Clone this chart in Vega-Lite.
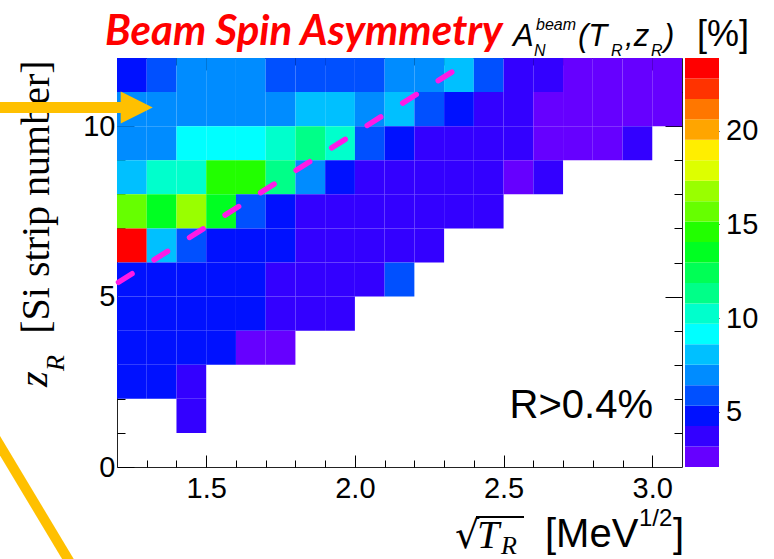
{
  "$schema": "https://vega.github.io/schema/vega-lite/v6.json",
  "width": 565,
  "height": 409,
  "autosize": {"type": "none"},
  "padding": {"left": 117, "top": 58, "right": 92, "bottom": 92},
  "background": "white",
  "config": {
    "view": {"stroke": "#222222", "strokeWidth": 1},
    "axis": {"domain": false, "grid": false, "tickColor": "#000000", "tickWidth": 1, "labelColor": "#000000", "labelFont": "Liberation Sans"}
  },
  "resolve": {"scale": {"x": "independent", "y": "independent"}, "axis": {"x": "independent", "y": "independent"}},
  "layer": [
    {
      "data": {"values": [
        {"t0":1.2,"t1":1.3,"z0":11,"z1":12,"a":4.9},{"t0":1.3,"t1":1.4,"z0":11,"z1":12,"a":5.8},{"t0":1.4,"t1":1.5,"z0":11,"z1":12,"a":7.0},{"t0":1.5,"t1":1.6,"z0":11,"z1":12,"a":7.1},{"t0":1.6,"t1":1.7,"z0":11,"z1":12,"a":6.9},{"t0":1.7,"t1":1.8,"z0":11,"z1":12,"a":5.9},{"t0":1.8,"t1":1.9,"z0":11,"z1":12,"a":5.8},{"t0":1.9,"t1":2.0,"z0":11,"z1":12,"a":6.0},{"t0":2.0,"t1":2.1,"z0":11,"z1":12,"a":5.9},{"t0":2.1,"t1":2.2,"z0":11,"z1":12,"a":7.0},{"t0":2.2,"t1":2.3,"z0":11,"z1":12,"a":6.9},{"t0":2.3,"t1":2.4,"z0":11,"z1":12,"a":8.1},{"t0":2.4,"t1":2.5,"z0":11,"z1":12,"a":5.8},{"t0":2.5,"t1":2.6,"z0":11,"z1":12,"a":3.8},{"t0":2.6,"t1":2.7,"z0":11,"z1":12,"a":3.7},{"t0":2.7,"t1":2.8,"z0":11,"z1":12,"a":2.6},{"t0":2.8,"t1":2.9,"z0":11,"z1":12,"a":2.7},{"t0":2.9,"t1":3.0,"z0":11,"z1":12,"a":2.6},{"t0":3.0,"t1":3.1,"z0":11,"z1":12,"a":2.5},
        {"t0":1.2,"t1":1.3,"z0":10,"z1":11,"a":7.0},{"t0":1.3,"t1":1.4,"z0":10,"z1":11,"a":6.9},{"t0":1.4,"t1":1.5,"z0":10,"z1":11,"a":7.1},{"t0":1.5,"t1":1.6,"z0":10,"z1":11,"a":7.0},{"t0":1.6,"t1":1.7,"z0":10,"z1":11,"a":6.9},{"t0":1.7,"t1":1.8,"z0":10,"z1":11,"a":7.0},{"t0":1.8,"t1":1.9,"z0":10,"z1":11,"a":8.1},{"t0":1.9,"t1":2.0,"z0":10,"z1":11,"a":8.0},{"t0":2.0,"t1":2.1,"z0":10,"z1":11,"a":7.1},{"t0":2.1,"t1":2.2,"z0":10,"z1":11,"a":8.2},{"t0":2.2,"t1":2.3,"z0":10,"z1":11,"a":5.9},{"t0":2.3,"t1":2.4,"z0":10,"z1":11,"a":4.8},{"t0":2.4,"t1":2.5,"z0":10,"z1":11,"a":3.7},{"t0":2.5,"t1":2.6,"z0":10,"z1":11,"a":3.6},{"t0":2.6,"t1":2.7,"z0":10,"z1":11,"a":2.7},{"t0":2.7,"t1":2.8,"z0":10,"z1":11,"a":2.6},{"t0":2.8,"t1":2.9,"z0":10,"z1":11,"a":2.5},{"t0":2.9,"t1":3.0,"z0":10,"z1":11,"a":2.7},{"t0":3.0,"t1":3.1,"z0":10,"z1":11,"a":2.6},
        {"t0":1.2,"t1":1.3,"z0":9,"z1":10,"a":7.0},{"t0":1.3,"t1":1.4,"z0":9,"z1":10,"a":6.9},{"t0":1.4,"t1":1.5,"z0":9,"z1":10,"a":9.2},{"t0":1.5,"t1":1.6,"z0":9,"z1":10,"a":9.1},{"t0":1.6,"t1":1.7,"z0":9,"z1":10,"a":9.2},{"t0":1.7,"t1":1.8,"z0":9,"z1":10,"a":10.3},{"t0":1.8,"t1":1.9,"z0":9,"z1":10,"a":11.3},{"t0":1.9,"t1":2.0,"z0":9,"z1":10,"a":10.2},{"t0":2.0,"t1":2.1,"z0":9,"z1":10,"a":5.9},{"t0":2.1,"t1":2.2,"z0":9,"z1":10,"a":4.8},{"t0":2.2,"t1":2.3,"z0":9,"z1":10,"a":3.7},{"t0":2.3,"t1":2.4,"z0":9,"z1":10,"a":3.8},{"t0":2.4,"t1":2.5,"z0":9,"z1":10,"a":3.6},{"t0":2.5,"t1":2.6,"z0":9,"z1":10,"a":3.7},{"t0":2.6,"t1":2.7,"z0":9,"z1":10,"a":2.6},{"t0":2.7,"t1":2.8,"z0":9,"z1":10,"a":2.7},{"t0":2.8,"t1":2.9,"z0":9,"z1":10,"a":2.6},{"t0":2.9,"t1":3.0,"z0":9,"z1":10,"a":3.6},
        {"t0":1.2,"t1":1.3,"z0":8,"z1":9,"a":8.0},{"t0":1.3,"t1":1.4,"z0":8,"z1":9,"a":10.2},{"t0":1.4,"t1":1.5,"z0":8,"z1":9,"a":10.3},{"t0":1.5,"t1":1.6,"z0":8,"z1":9,"a":14.6},{"t0":1.6,"t1":1.7,"z0":8,"z1":9,"a":14.5},{"t0":1.7,"t1":1.8,"z0":8,"z1":9,"a":11.4},{"t0":1.8,"t1":1.9,"z0":8,"z1":9,"a":7.0},{"t0":1.9,"t1":2.0,"z0":8,"z1":9,"a":4.7},{"t0":2.0,"t1":2.1,"z0":8,"z1":9,"a":3.7},{"t0":2.1,"t1":2.2,"z0":8,"z1":9,"a":3.8},{"t0":2.2,"t1":2.3,"z0":8,"z1":9,"a":3.6},{"t0":2.3,"t1":2.4,"z0":8,"z1":9,"a":3.7},{"t0":2.4,"t1":2.5,"z0":8,"z1":9,"a":3.8},{"t0":2.5,"t1":2.6,"z0":8,"z1":9,"a":2.6},{"t0":2.6,"t1":2.7,"z0":8,"z1":9,"a":3.6},
        {"t0":1.2,"t1":1.3,"z0":7,"z1":8,"a":15.7},{"t0":1.3,"t1":1.4,"z0":7,"z1":8,"a":13.5},{"t0":1.4,"t1":1.5,"z0":7,"z1":8,"a":16.8},{"t0":1.5,"t1":1.6,"z0":7,"z1":8,"a":13.6},{"t0":1.6,"t1":1.7,"z0":7,"z1":8,"a":5.9},{"t0":1.7,"t1":1.8,"z0":7,"z1":8,"a":4.8},{"t0":1.8,"t1":1.9,"z0":7,"z1":8,"a":3.7},{"t0":1.9,"t1":2.0,"z0":7,"z1":8,"a":3.8},{"t0":2.0,"t1":2.1,"z0":7,"z1":8,"a":3.6},{"t0":2.1,"t1":2.2,"z0":7,"z1":8,"a":3.7},{"t0":2.2,"t1":2.3,"z0":7,"z1":8,"a":3.8},{"t0":2.3,"t1":2.4,"z0":7,"z1":8,"a":3.7},{"t0":2.4,"t1":2.5,"z0":7,"z1":8,"a":3.6},
        {"t0":1.2,"t1":1.3,"z0":6,"z1":7,"a":23.4},{"t0":1.3,"t1":1.4,"z0":6,"z1":7,"a":8.0},{"t0":1.4,"t1":1.5,"z0":6,"z1":7,"a":5.9},{"t0":1.5,"t1":1.6,"z0":6,"z1":7,"a":4.8},{"t0":1.6,"t1":1.7,"z0":6,"z1":7,"a":4.7},{"t0":1.7,"t1":1.8,"z0":6,"z1":7,"a":4.9},{"t0":1.8,"t1":1.9,"z0":6,"z1":7,"a":3.7},{"t0":1.9,"t1":2.0,"z0":6,"z1":7,"a":3.8},{"t0":2.0,"t1":2.1,"z0":6,"z1":7,"a":3.6},{"t0":2.1,"t1":2.2,"z0":6,"z1":7,"a":3.7},{"t0":2.2,"t1":2.3,"z0":6,"z1":7,"a":3.8},
        {"t0":1.2,"t1":1.3,"z0":5,"z1":6,"a":4.8},{"t0":1.3,"t1":1.4,"z0":5,"z1":6,"a":4.7},{"t0":1.4,"t1":1.5,"z0":5,"z1":6,"a":4.9},{"t0":1.5,"t1":1.6,"z0":5,"z1":6,"a":4.8},{"t0":1.6,"t1":1.7,"z0":5,"z1":6,"a":4.6},{"t0":1.7,"t1":1.8,"z0":5,"z1":6,"a":3.7},{"t0":1.8,"t1":1.9,"z0":5,"z1":6,"a":3.8},{"t0":1.9,"t1":2.0,"z0":5,"z1":6,"a":3.6},{"t0":2.0,"t1":2.1,"z0":5,"z1":6,"a":3.7},{"t0":2.1,"t1":2.2,"z0":5,"z1":6,"a":5.9},
        {"t0":1.2,"t1":1.3,"z0":4,"z1":5,"a":4.8},{"t0":1.3,"t1":1.4,"z0":4,"z1":5,"a":4.9},{"t0":1.4,"t1":1.5,"z0":4,"z1":5,"a":4.7},{"t0":1.5,"t1":1.6,"z0":4,"z1":5,"a":4.8},{"t0":1.6,"t1":1.7,"z0":4,"z1":5,"a":4.6},{"t0":1.7,"t1":1.8,"z0":4,"z1":5,"a":3.7},{"t0":1.8,"t1":1.9,"z0":4,"z1":5,"a":3.6},{"t0":1.9,"t1":2.0,"z0":4,"z1":5,"a":3.8},
        {"t0":1.2,"t1":1.3,"z0":3,"z1":4,"a":4.8},{"t0":1.3,"t1":1.4,"z0":3,"z1":4,"a":4.7},{"t0":1.4,"t1":1.5,"z0":3,"z1":4,"a":4.9},{"t0":1.5,"t1":1.6,"z0":3,"z1":4,"a":4.8},{"t0":1.6,"t1":1.7,"z0":3,"z1":4,"a":2.7},{"t0":1.7,"t1":1.8,"z0":3,"z1":4,"a":2.6},
        {"t0":1.2,"t1":1.3,"z0":2,"z1":3,"a":4.8},{"t0":1.3,"t1":1.4,"z0":2,"z1":3,"a":4.9},{"t0":1.4,"t1":1.5,"z0":2,"z1":3,"a":3.7},
        {"t0":1.4,"t1":1.5,"z0":1,"z1":2,"a":3.8}
      ]},
      "mark": {"type": "rect"},
      "encoding": {
        "x": {"field": "t0", "type": "quantitative",
              "scale": {"domain": [1.2, 3.1], "nice": false, "zero": false},
              "axis": {"title": null, "orient": "bottom",
                       "values": [1.3,1.4,1.5,1.6,1.7,1.8,1.9,2.0,2.1,2.2,2.3,2.4,2.5,2.6,2.7,2.8,2.9,3.0],
                       "labelExpr": "abs(datum.value*2 - round(datum.value*2)) < 0.001 ? format(datum.value, '.1f') : ''",
                       "tickSize": {"condition": {"test": "abs(datum.value*2 - round(datum.value*2)) < 0.001", "value": -12}, "value": -7},
                       "labelPadding": 42, "labelBaseline": "alphabetic", "labelFontSize": 29, "labelOverlap": false, "labelFlush": false}},
        "x2": {"field": "t1"},
        "y": {"field": "z0", "type": "quantitative",
              "scale": {"domain": [0, 12], "nice": false, "zero": false},
              "axis": {"title": null, "orient": "left",
                       "values": [0,1,2,3,4,5,6,7,8,9,10,11],
                       "labelExpr": "datum.value % 5 === 0 ? datum.label : ''",
                       "tickSize": {"condition": {"test": "datum.value % 5 === 0", "value": -17}, "value": -8},
                       "labelPadding": 19, "labelBaseline": "middle", "labelFontSize": 29, "labelOverlap": false, "labelFlush": false}},
        "y2": {"field": "z1"},
        "color": {"field": "a", "type": "quantitative",
                  "scale": {"type": "quantize", "domain": [2.06, 23.87], "nice": false, "zero": false,
                            "range": ["#6600FF","#3300FF","#0011FF","#0050FF","#008CFF","#00C0FF","#00FFFF","#00FFCC","#00FF88","#00FF55","#00FF22","#22FF00","#66FF00","#99FF00","#DDFF00","#FFEE00","#FFA500","#FF7700","#FF3300","#FF0000"]},
                  "legend": null}
      }
    },
    {
      "data": {"values": [{"t": 1.205, "z": 5.42}, {"t": 2.343, "z": 11.68}]},
      "mark": {"type": "line", "color": "#FF1AE6", "strokeWidth": 5.5, "strokeCap": "round", "strokeDash": [16, 26]},
      "encoding": {
        "x": {"field": "t", "type": "quantitative", "scale": {"domain": [1.2, 3.1], "nice": false, "zero": false},
              "axis": {"title": null, "orient": "top", "labels": false,
                       "values": [1.3,1.4,1.5,1.6,1.7,1.8,1.9,2.0,2.1,2.2,2.3,2.4,2.5,2.6,2.7,2.8,2.9,3.0],
                       "tickSize": {"condition": {"test": "abs(datum.value*2 - round(datum.value*2)) < 0.001", "value": -12}, "value": -7}}},
        "y": {"field": "z", "type": "quantitative", "scale": {"domain": [0, 12], "nice": false, "zero": false},
              "axis": {"title": null, "orient": "right", "labels": false,
                       "values": [1,2,3,4,5,6,7,8,9,10,11],
                       "tickSize": {"condition": {"test": "datum.value % 5 === 0", "value": -17}, "value": -8}}}
      }
    },
    {
      "layer": [
        {
          "data": {"values": [{"t": 3.0025, "z": 1.43, "s": "R>0.4%"}]},
          "mark": {"type": "text", "font": "Liberation Sans", "fontSize": 40, "align": "right", "baseline": "alphabetic", "color": "#000000"},
          "encoding": {
            "x": {"field": "t", "type": "quantitative", "scale": {"domain": [1.2, 3.1], "nice": false, "zero": false}, "axis": null},
            "y": {"field": "z", "type": "quantitative", "scale": {"domain": [0, 12], "nice": false, "zero": false}, "axis": null},
            "text": {"field": "s"}
          }
        },
        {
          "data": {"values": [{"t": 1.16, "z": 12.38, "s": "Beam Spin Asymmetry"}]},
          "mark": {"type": "text", "font": "Lato", "fontSize": 42, "fontWeight": "bold", "fontStyle": "italic", "align": "left", "baseline": "alphabetic", "color": "#FF0000"},
          "encoding": {
            "x": {"field": "t", "type": "quantitative", "axis": null},
            "y": {"field": "z", "type": "quantitative", "axis": null},
            "text": {"field": "s"}
          }
        },
        {
          "data": {"values": [{"t": 2.5317, "z": 12.35, "s": "A"}, {"t": 2.7503, "z": 12.35, "s": "(T"}, {"t": 2.9084, "z": 12.35, "s": ",z"}, {"t": 3.0395, "z": 12.35, "s": ")"}]},
          "mark": {"type": "text", "font": "Liberation Sans", "fontSize": 31, "fontStyle": "italic", "align": "left", "baseline": "alphabetic", "color": "#000000"},
          "encoding": {
            "x": {"field": "t", "type": "quantitative", "axis": null},
            "y": {"field": "z", "type": "quantitative", "axis": null},
            "text": {"field": "s"}
          }
        },
        {
          "data": {"values": [{"t": 3.1504, "z": 12.35, "s": "[%]"}]},
          "mark": {"type": "text", "font": "Liberation Sans", "fontSize": 36, "align": "left", "baseline": "alphabetic", "color": "#000000"},
          "encoding": {
            "x": {"field": "t", "type": "quantitative", "axis": null},
            "y": {"field": "z", "type": "quantitative", "axis": null},
            "text": {"field": "s"}
          }
        },
        {
          "data": {"values": [{"t": 2.6091, "z": 12.82, "s": "beam"}, {"t": 2.6023, "z": 12.06, "s": "N"}, {"t": 2.8614, "z": 12.06, "s": "R"}, {"t": 2.9958, "z": 12.06, "s": "R"}]},
          "mark": {"type": "text", "font": "Liberation Sans", "fontSize": 16, "fontStyle": "italic", "align": "left", "baseline": "alphabetic", "color": "#000000"},
          "encoding": {
            "x": {"field": "t", "type": "quantitative", "axis": null},
            "y": {"field": "z", "type": "quantitative", "axis": null},
            "text": {"field": "s"}
          }
        },
        {
          "data": {"values": [{"t": 0.9713, "z": 7.92, "s": "[Si strip number]"}]},
          "mark": {"type": "text", "font": "Liberation Serif", "fontSize": 40, "angle": 270, "align": "center", "baseline": "alphabetic", "color": "#000000"},
          "encoding": {
            "x": {"field": "t", "type": "quantitative", "axis": null},
            "y": {"field": "z", "type": "quantitative", "axis": null},
            "text": {"field": "s"}
          }
        },
        {
          "data": {"values": [{"t": 0.9646, "z": 2.347, "s": "z"}]},
          "mark": {"type": "text", "font": "Liberation Serif", "fontSize": 40, "fontStyle": "italic", "angle": 270, "align": "left", "baseline": "alphabetic", "color": "#000000"},
          "encoding": {
            "x": {"field": "t", "type": "quantitative", "axis": null},
            "y": {"field": "z", "type": "quantitative", "axis": null},
            "text": {"field": "s"}
          }
        },
        {
          "data": {"values": [{"t": 1.0218, "z": 2.817, "s": "R"}]},
          "mark": {"type": "text", "font": "Liberation Serif", "fontSize": 26, "fontStyle": "italic", "angle": 270, "align": "left", "baseline": "alphabetic", "color": "#000000"},
          "encoding": {
            "x": {"field": "t", "type": "quantitative", "axis": null},
            "y": {"field": "z", "type": "quantitative", "axis": null},
            "text": {"field": "s"}
          }
        },
        {
          "data": {"values": [{"t": 2.3366, "z": -2.38, "s": "√"}]},
          "mark": {"type": "text", "font": "DejaVu Serif", "fontSize": 38, "align": "left", "baseline": "alphabetic", "color": "#000000"},
          "encoding": {
            "x": {"field": "t", "type": "quantitative", "axis": null},
            "y": {"field": "z", "type": "quantitative", "axis": null},
            "text": {"field": "s"}
          }
        },
        {
          "data": {"values": [{"t": 2.4106, "z": -2.38, "s": "T"}]},
          "mark": {"type": "text", "font": "Liberation Serif", "fontSize": 40, "fontStyle": "italic", "align": "left", "baseline": "alphabetic", "color": "#000000"},
          "encoding": {
            "x": {"field": "t", "type": "quantitative", "axis": null},
            "y": {"field": "z", "type": "quantitative", "axis": null},
            "text": {"field": "s"}
          }
        },
        {
          "data": {"values": [{"t": 2.4913, "z": -2.56, "s": "R"}]},
          "mark": {"type": "text", "font": "Liberation Serif", "fontSize": 26, "fontStyle": "italic", "align": "left", "baseline": "alphabetic", "color": "#000000"},
          "encoding": {
            "x": {"field": "t", "type": "quantitative", "axis": null},
            "y": {"field": "z", "type": "quantitative", "axis": null},
            "text": {"field": "s"}
          }
        },
        {
          "data": {"values": [{"t": 2.4073, "t2": 2.5687, "z": -1.47}]},
          "mark": {"type": "rule", "color": "#000000", "strokeWidth": 2},
          "encoding": {
            "x": {"field": "t", "type": "quantitative", "axis": null},
            "x2": {"field": "t2"},
            "y": {"field": "z", "type": "quantitative", "axis": null}
          }
        },
        {
          "data": {"values": [{"t": 2.6393, "z": -2.35, "s": "[MeV"}, {"t": 3.0697, "z": -2.35, "s": "]"}]},
          "mark": {"type": "text", "font": "Liberation Sans", "fontSize": 40, "align": "left", "baseline": "alphabetic", "color": "#000000"},
          "encoding": {
            "x": {"field": "t", "type": "quantitative", "axis": null},
            "y": {"field": "z", "type": "quantitative", "axis": null},
            "text": {"field": "s"}
          }
        },
        {
          "data": {"values": [{"t": 2.9554, "z": -1.73, "s": "1/2"}]},
          "mark": {"type": "text", "font": "Liberation Sans", "fontSize": 24, "align": "left", "baseline": "alphabetic", "color": "#000000"},
          "encoding": {
            "x": {"field": "t", "type": "quantitative", "axis": null},
            "y": {"field": "z", "type": "quantitative", "axis": null},
            "text": {"field": "s"}
          }
        },
        {
          "data": {"values": [{"t": 0.78, "t2": 1.2135, "z": 10.548}]},
          "mark": {"type": "rule", "color": "#FFC000", "strokeWidth": 11},
          "encoding": {
            "x": {"field": "t", "type": "quantitative", "axis": null},
            "x2": {"field": "t2"},
            "y": {"field": "z", "type": "quantitative", "axis": null}
          }
        },
        {
          "data": {"values": [{"t": 1.2662, "z": 10.548}]},
          "mark": {"type": "point", "shape": "M-1,-1L1,0L-1,1Z", "size": 1024, "filled": true, "color": "#FFC000", "opacity": 1},
          "encoding": {
            "x": {"field": "t", "type": "quantitative", "axis": null},
            "y": {"field": "z", "type": "quantitative", "axis": null}
          }
        },
        {
          "data": {"values": [{"t": 0.76, "t2": 1.09, "z": 1.3, "z2": -3.5}]},
          "mark": {"type": "rule", "color": "#FFC000", "strokeWidth": 10},
          "encoding": {
            "x": {"field": "t", "type": "quantitative", "axis": null},
            "x2": {"field": "t2"},
            "y": {"field": "z", "type": "quantitative", "axis": null},
            "y2": {"field": "z2"}
          }
        }
      ]
    },
    {
      "data": {"values": [
        {"lo":2.06,"hi":3.1505,"mid":2.605},{"lo":3.1505,"hi":4.241,"mid":3.696},{"lo":4.241,"hi":5.3315,"mid":4.786},{"lo":5.3315,"hi":6.422,"mid":5.877},{"lo":6.422,"hi":7.5125,"mid":6.967},
        {"lo":7.5125,"hi":8.603,"mid":8.058},{"lo":8.603,"hi":9.6935,"mid":9.148},{"lo":9.6935,"hi":10.784,"mid":10.239},{"lo":10.784,"hi":11.8745,"mid":11.329},{"lo":11.8745,"hi":12.965,"mid":12.42},
        {"lo":12.965,"hi":14.0555,"mid":13.51},{"lo":14.0555,"hi":15.146,"mid":14.601},{"lo":15.146,"hi":16.2365,"mid":15.691},{"lo":16.2365,"hi":17.327,"mid":16.782},{"lo":17.327,"hi":18.4175,"mid":17.872},
        {"lo":18.4175,"hi":19.508,"mid":18.963},{"lo":19.508,"hi":20.5985,"mid":20.053},{"lo":20.5985,"hi":21.689,"mid":21.144},{"lo":21.689,"hi":22.7795,"mid":22.234},{"lo":22.7795,"hi":23.87,"mid":23.325}
      ]},
      "mark": {"type": "rect"},
      "encoding": {
        "x": {"datum": 0, "type": "quantitative", "scale": {"domain": [0, 1], "range": [568, 602]}, "axis": null},
        "x2": {"datum": 1},
        "y": {"field": "lo", "type": "quantitative",
              "scale": {"domain": [2.06, 23.87], "nice": false, "zero": false},
              "axis": {"title": null, "orient": "right", "offset": 37, "values": [5, 10, 15, 20],
                       "tickSize": -16.5, "labelPadding": 23, "labelFontSize": 29, "labelBaseline": "middle", "labelOverlap": false, "labelFlush": false}},
        "y2": {"field": "hi"},
        "color": {"field": "mid", "type": "quantitative",
                  "scale": {"type": "quantize", "domain": [2.06, 23.87], "nice": false, "zero": false,
                            "range": ["#6600FF","#3300FF","#0011FF","#0050FF","#008CFF","#00C0FF","#00FFFF","#00FFCC","#00FF88","#00FF55","#00FF22","#22FF00","#66FF00","#99FF00","#DDFF00","#FFEE00","#FFA500","#FF7700","#FF3300","#FF0000"]},
                  "legend": null}
      }
    }
  ]
}
